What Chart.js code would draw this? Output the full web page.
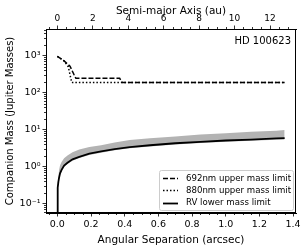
<!DOCTYPE html>
<html><head><meta charset="utf-8">
<script src="https://cdn.jsdelivr.net/npm/chart.js@4.4.1/dist/chart.umd.min.js"></script>
<style>html,body{margin:0;padding:0;background:#fff}#wrap{width:305px;height:247px}</style>
</head><body><div id="wrap"><canvas id="c" width="305" height="247"></canvas></div>
<script>
// ---- data ----
const sep692 = [0.0, 0.04, 0.075, 0.10, 0.11, 0.37, 0.385, 1.35];
const mass692 = [950, 720, 520, 300, 245, 245, 189, 189];
const sep880 = [0.0, 0.04, 0.065, 0.085, 1.35];
const mass880 = [950, 720, 500, 189, 189];
const sepRV = [0.0, 0.001, 0.003, 0.006, 0.01, 0.016, 0.025, 0.04, 0.06, 0.09, 0.13, 0.19, 0.26, 0.34, 0.43, 0.55, 0.70, 0.85, 1.0, 1.15, 1.3, 1.35];
const massRV = [0.03, 0.16, 0.27, 0.39, 0.5, 0.66, 0.82, 1.07, 1.28, 1.58, 1.85, 2.25, 2.6, 3.0, 3.4, 3.8, 4.3, 4.7, 5.1, 5.4, 5.8, 5.9];
const massRVHigh = [0.03, 0.2, 0.35, 0.5, 0.8, 1.1, 1.35, 1.7, 2.0, 2.45, 2.9, 3.4, 3.8, 4.5, 5.3, 5.9, 6.6, 7.4, 8.0, 8.8, 9.4, 9.8];
const massRVLow = [0.03, 0.15, 0.25, 0.36, 0.46, 0.61, 0.76, 0.99, 1.18, 1.46, 1.71, 2.08, 2.4, 2.78, 3.15, 3.52, 3.98, 4.35, 4.72, 5.0, 5.37, 5.46];
const yMajorTicks = [0.1, 1, 10, 100, 1000];
const yTickLabels = ['10\u207B\u00B9', '10\u2070', '10\u00B9', '10\u00B2', '10\u00B3'];
const xTicks = [0.0, 0.2, 0.4, 0.6, 0.8, 1.0, 1.2, 1.4];
const auTicks = [0, 2, 4, 6, 8, 10, 12];
const distancePc = 9.5; // au per arcsec
const labels = ['692nm upper mass limit', '880nm upper mass limit', 'RV lower mass limit'];
const titleText = 'HD 100623';

const pts = (xs, ys) => xs.map((x, i) => ({x: x, y: ys[i]}));
const FONT = 'DejaVu Sans';
const XMIN = -0.0675, XMAX = 1.4175, YMIN = 0.0562, YMAX = 5250;

const minorTicks = {
  id: 'minorTicks',
  afterDraw(chart) {
    const ctx = chart.ctx, a = chart.chartArea;
    ctx.save();
    ctx.strokeStyle = '#000'; ctx.lineWidth = 0.8;
    const y = chart.scales.y, x = chart.scales.x, x2 = chart.scales.x2;
    ctx.beginPath();
    for (let e = -2; e <= 3; e++) for (let m = 2; m <= 9; m++) {
      const v = m * Math.pow(10, e);
      if (v < YMIN || v > YMAX) continue;
      const py = Math.round(y.getPixelForValue(v)) + 0.5;
      ctx.moveTo(a.left, py); ctx.lineTo(a.left - 2, py);
    }
    for (let k = -1; k <= 29; k++) {
      const v = k * 0.05;
      if (v < XMIN || v > XMAX) continue;
      if (Math.abs(v * 5 - Math.round(v * 5)) < 1e-6) continue;
      const px = Math.round(x.getPixelForValue(v)) + 0.5;
      ctx.moveTo(px, a.bottom); ctx.lineTo(px, a.bottom + 2);
    }
    for (let k = -1; k <= 27; k++) {
      const v = k * 0.5;
      if (v < XMIN * distancePc || v > XMAX * distancePc) continue;
      if (Math.abs(v / 2 - Math.round(v / 2)) < 1e-6) continue;
      const px = Math.round(x2.getPixelForValue(v)) + 0.5;
      ctx.moveTo(px, a.top); ctx.lineTo(px, a.top - 2);
    }
    ctx.stroke();
    // frame
    ctx.lineWidth = 1;
    ctx.strokeRect(a.left + 0.5, a.top + 0.5, a.right - a.left - 1, a.bottom - a.top - 1);
    // annotation
    ctx.fillStyle = '#000';
    ctx.font = '10px "' + FONT + '"';
    ctx.textAlign = 'right'; ctx.textBaseline = 'middle';
    ctx.fillText(titleText, a.right - 5, 41);
    // legend
    const bx = 159, by = 170, bw = 134, bh = 40;
    ctx.fillStyle = 'rgba(255,255,255,0.85)';
    ctx.strokeStyle = '#cccccc'; ctx.lineWidth = 1;
    ctx.beginPath();
    if (ctx.roundRect) ctx.roundRect(bx + 0.5, by + 0.5, bw, bh, 2); else ctx.rect(bx + 0.5, by + 0.5, bw, bh);
    ctx.fill(); ctx.stroke();
    const dsIdx = [0, 1, 2];
    ctx.font = '8.6px "' + FONT + '"';
    ctx.textAlign = 'left';
    dsIdx.forEach((di, i) => {
      const ds = chart.data.datasets[di];
      const cy = 178 + i * 12.3;
      ctx.strokeStyle = '#000'; ctx.lineWidth = ds.borderWidth;
      ctx.setLineDash(ds.borderDash || []);
      ctx.beginPath(); ctx.moveTo(163, Math.round(cy) + 0.5); ctx.lineTo(178, Math.round(cy) + 0.5); ctx.stroke();
      ctx.setLineDash([]);
      ctx.fillStyle = '#000';
      ctx.fillText(ds.label, 186, cy + 0.5);
    });
    ctx.restore();
  }
};

new Chart(document.getElementById('c'), {
  type: 'line',
  data: {
    datasets: [
      {label: labels[0], data: pts(sep692, mass692), borderColor: '#000', borderWidth: 1.5, borderDash: [5, 2], pointRadius: 0, fill: false, order: 1},
      {label: labels[1], data: pts(sep880, mass880), borderColor: '#000', borderWidth: 1.5, borderDash: [1.5, 2], pointRadius: 0, fill: false, order: 1},
      {label: labels[2], data: pts(sepRV, massRV), borderColor: '#000', borderWidth: 1.8, pointRadius: 0, fill: false, order: 0},
      {label: 'band', data: pts(sepRV, massRVHigh), borderColor: 'rgba(0,0,0,0)', borderWidth: 0, backgroundColor: '#b3b3b3', pointRadius: 0, fill: '+1', order: 5},
      {label: 'bandLow', data: pts(sepRV, massRVLow), borderColor: 'rgba(0,0,0,0)', borderWidth: 0, pointRadius: 0, fill: false, order: 5}
    ]
  },
  options: {
    responsive: false, animation: false, devicePixelRatio: 1,
    layout: {padding: {left: 0, right: 9, top: 0, bottom: 0}},
    plugins: {legend: {display: false}, tooltip: {enabled: false}},
    scales: {
      x: {
        type: 'linear', position: 'bottom', min: XMIN, max: XMAX,
        afterBuildTicks: s => { s.ticks = xTicks.map(v => ({value: v})); },
        afterFit: s => { s.height = 34; },
        grid: {drawOnChartArea: false, tickLength: 3.5, color: '#000', tickWidth: 0.8},
        border: {display: true, color: '#000', width: 1},
        ticks: {color: '#000', font: {family: FONT, size: 9.5}, padding: 2.5, maxRotation: 0, callback: v => v.toFixed(1)},
        title: {display: true, text: 'Angular Separation (arcsec)', color: '#000', font: {family: FONT, size: 10.5}, padding: {top: 0, bottom: 0}}
      },
      x2: {
        type: 'linear', position: 'top', min: XMIN * distancePc, max: XMAX * distancePc,
        afterBuildTicks: s => { s.ticks = auTicks.map(v => ({value: v})); },
        afterFit: s => { s.height = 29; },
        grid: {drawOnChartArea: false, tickLength: 3.5, color: '#000', tickWidth: 0.8},
        border: {display: true, color: '#000', width: 1},
        ticks: {color: '#000', font: {family: FONT, size: 9}, padding: 1, maxRotation: 0, callback: v => String(v)},
        title: {display: true, text: 'Semi-major Axis (au)', color: '#000', font: {family: FONT, size: 10.5}, padding: {top: 5, bottom: 0}}
      },
      y: {
        type: 'logarithmic', position: 'left', min: YMIN, max: YMAX,
        afterBuildTicks: s => { s.ticks = yMajorTicks.map(v => ({value: v})); },
        afterFit: s => { s.width = 46; },
        grid: {drawOnChartArea: false, tickLength: 3.5, color: '#000', tickWidth: 0.8},
        border: {display: true, color: '#000', width: 1},
        ticks: {color: '#000', font: {family: FONT, size: 9.5}, padding: 2, callback: (v) => { const i = yMajorTicks.indexOf(v); return i >= 0 ? yTickLabels[i] : ''; }},
        title: {display: true, text: 'Companion Mass (Jupiter Masses)', color: '#000', font: {family: FONT, size: 10}, padding: {top: 4, bottom: 0}}
      }
    }
  },
  plugins: [minorTicks]
});
</script>
</body></html>
